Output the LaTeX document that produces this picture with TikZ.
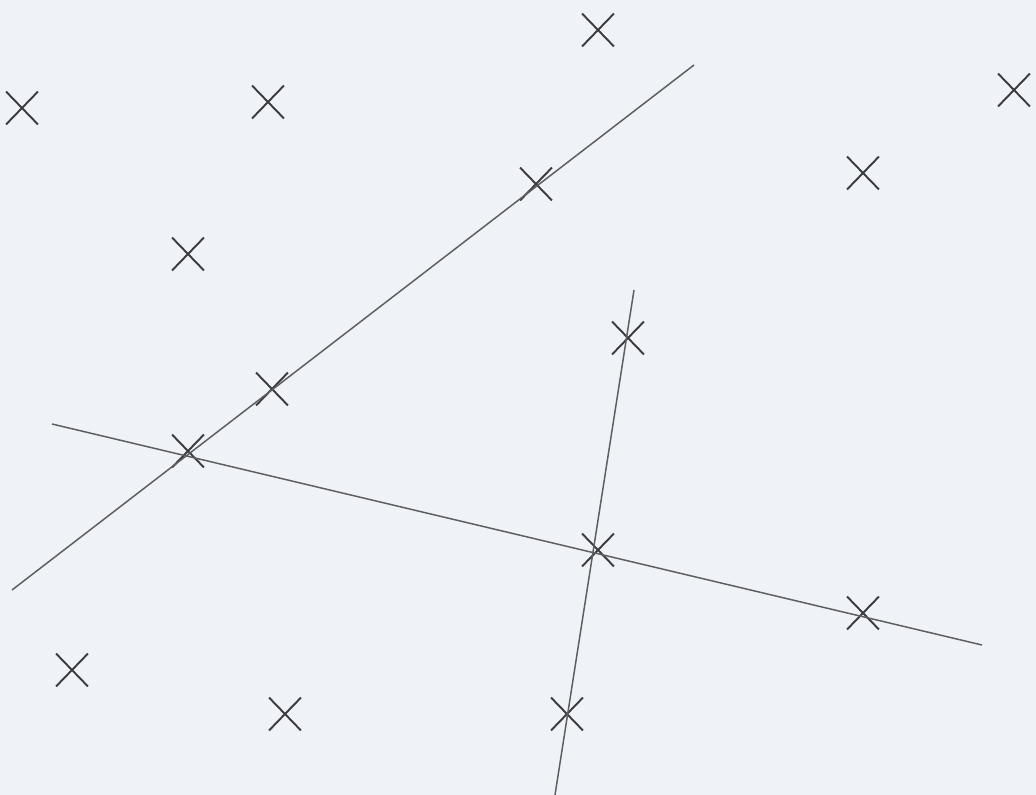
\documentclass[tikz,border=0pt]{standalone}
\usepackage{tikz}
\usetikzlibrary{shapes.misc}
\definecolor{paper}{RGB}{239,242,247}
\definecolor{pencil}{RGB}{95,95,98}
\definecolor{ink}{RGB}{60,60,64}
\begin{document}
\begin{tikzpicture}[
    x=0.02cm, y=-0.02cm,
    crossmark/.style={cross out, draw=ink, line width=1.1pt, minimum width=0.6cm, minimum height=0.62cm, inner sep=0pt},
    ruled/.style={draw=pencil, line width=0.85pt}
]

% paper
\fill[paper] (0,0) rectangle (1036,795);
\useasboundingbox (0,0) rectangle (1036,795);

% Crosses
\node[crossmark] (p1) at (598,30) {};
\node[crossmark] (p2) at (22,108) {};
\node[crossmark] (p3) at (268,102) {};
\node[crossmark] (p4) at (1014,90) {};
\node[crossmark] (p5) at (863,173) {};
\node[crossmark] (p6) at (536,184) {};
\node[crossmark] (p7) at (188,254) {};
\node[crossmark] (p8) at (628,338) {};
\node[crossmark] (p9) at (272,389) {};
\node[crossmark] (p10) at (188,451) {};
\node[crossmark] (p11) at (598,550) {};
\node[crossmark] (p12) at (863,613) {};
\node[crossmark] (p13) at (72,670) {};
\node[crossmark] (p14) at (285,714) {};
\node[crossmark] (p15) at (567,714) {};

% line ends
\coordinate (a1) at (12,590);
\coordinate (a2) at (694,65);
\coordinate (b1) at (52,424);
\coordinate (b2) at (982,645);
\coordinate (c1) at (634,290);
\coordinate (c2) at (555,795);

% Lines
\draw[ruled] (a1) -- (a2);
\draw[ruled] (b1) -- (b2);
\draw[ruled] (c1) -- (c2);

\end{tikzpicture}
\end{document}
